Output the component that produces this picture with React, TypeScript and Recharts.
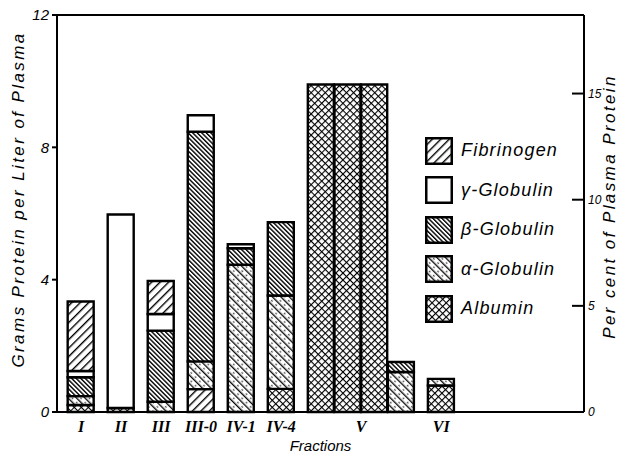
import React from "react";
import { BarChart, Bar, XAxis, YAxis, Legend, ReferenceLine } from "recharts";

// one entry per drawn column; fraction V is split over four columns
const fractions = ["I", "II", "III", "III-0", "IV-1", "IV-4", "V", "V", "V", "V", "VI"];
const albumin = [0.21, 0.12, 0, 0, 0, 0.7, 9.9, 9.9, 9.9, 0, 0.8];
const alphaGlobulin = [0.27, 0, 0.31, 0.84, 4.45, 2.82, 0, 0, 0, 1.21, 0.2];
const betaGlobulin = [0.57, 0, 2.15, 6.94, 0.5, 2.22, 0, 0, 0, 0.3, 0];
const gammaGlobulin = [0.19, 5.85, 0.5, 0.5, 0.12, 0, 0, 0, 0, 0, 0];
const fibrinogen = [2.1, 0, 1.0, 0.69, 0, 0, 0, 0, 0, 0, 0];
const fibrinogenAtBase = ["III-0"];
const gramTicks = [0, 4, 8, 12];
const percentTicks = [0, 5, 10, 15];

// columns of the same fraction touch, different fractions get a gap
let slot = 0;
const rows = fractions.map((f, i) => {
  if (i > 0) slot += f === fractions[i - 1] ? 2 : 3;
  const atBase = fibrinogenAtBase.includes(f);
  return {
    fraction: f,
    slot,
    fibLow: atBase ? fibrinogen[i] : 0,
    albumin: albumin[i],
    alpha: alphaGlobulin[i],
    beta: betaGlobulin[i],
    gamma: gammaGlobulin[i],
    fibHigh: atBase ? 0 : fibrinogen[i],
  };
});

const groups = Array.from(new Set(fractions)).map((f) => {
  const s = rows.filter((r) => r.fraction === f).map((r) => r.slot);
  return { name: f, center: (s[0] + s[s.length - 1]) / 2 };
});

const legendItems = [
  { name: "Fibrinogen", fill: "url(#fibPat)" },
  { name: "γ-Globulin", fill: "#fff" },
  { name: "β-Globulin", fill: "url(#betaPat)" },
  { name: "α-Globulin", fill: "url(#alphaPat)" },
  { name: "Albumin", fill: "url(#albPat)" },
];

const sans = '"Liberation Sans", Arial, sans-serif';
const textStyle = { fill: "#000", fontSize: 15, fontFamily: sans, fontStyle: "italic" };
const titleStyle = { ...textStyle, fontSize: 17, letterSpacing: 2.4, textAnchor: "middle" };

const PatternLegend = () => (
  <div>
    {legendItems.map((it) => (
      <div key={it.name} style={{ display: "flex", alignItems: "center", height: 39.5 }}>
        <svg width={28} height={28}>
          <rect x={1.25} y={1.25} width={25.5} height={25.5} fill={it.fill} stroke="#000" strokeWidth={2.5} />
        </svg>
        <span style={{ marginLeft: 8, fontFamily: sans, fontStyle: "italic", fontSize: 18, letterSpacing: 1.2 }}>
          {it.name}
        </span>
      </div>
    ))}
  </div>
);

const App = () => {
  return (
    <div style={{ position: "absolute", left: 0, top: 0 }}>
      <BarChart
        width={630}
        height={460}
        data={rows}
        margin={{ top: 15, right: 0, left: 0, bottom: 0 }}
        style={{ fontFamily: sans }}
      >
        <defs>
          <pattern id="fibPat" width="6" height="6" patternUnits="userSpaceOnUse" patternTransform="rotate(45)">
            <rect width="6" height="6" fill="#fff" />
            <line x1="0.7" y1="0" x2="0.7" y2="6" stroke="#000" strokeWidth="1.4" />
          </pattern>
          <pattern id="betaPat" width="3.2" height="3.2" patternUnits="userSpaceOnUse" patternTransform="rotate(-45)">
            <rect width="3.2" height="3.2" fill="#fff" />
            <line x1="0.7" y1="0" x2="0.7" y2="3.2" stroke="#000" strokeWidth="1.4" />
          </pattern>
          <pattern id="alphaPat" width="6" height="6" patternUnits="userSpaceOnUse" patternTransform="rotate(-45)">
            <rect width="6" height="6" fill="#fff" />
            <line x1="0.7" y1="0" x2="0.7" y2="6" stroke="#000" strokeWidth="1.3" />
            <circle cx="3.6" cy="3" r="0.8" fill="#000" />
          </pattern>
          <pattern id="albPat" width="5" height="5" patternUnits="userSpaceOnUse" patternTransform="rotate(45)">
            <rect width="5" height="5" fill="#fff" />
            <line x1="0" y1="0" x2="0" y2="5" stroke="#000" strokeWidth="2.2" />
            <line x1="0" y1="0" x2="5" y2="0" stroke="#000" strokeWidth="2.2" />
          </pattern>
        </defs>
        <XAxis
          type="number"
          dataKey="slot"
          domain={[-1.8, 37.7]}
          allowDataOverflow
          ticks={groups.map((g) => g.center)}
          interval={0}
          tickFormatter={(v) => groups.find((g) => g.center === v)?.name ?? ""}
          tickLine={false}
          axisLine={{ stroke: "#000", strokeWidth: 2 }}
          height={48}
          tickMargin={3}
          tick={{ fill: "#000", fontSize: 16, fontFamily: '"Liberation Serif", serif', fontStyle: "italic", fontWeight: "bold" }}
          label={{ value: "Fractions", position: "insideBottom", offset: 9, style: textStyle }}
        />
        <YAxis
          yAxisId="g"
          domain={[0, 12]}
          ticks={gramTicks}
          width={57}
          tickSize={5}
          tickMargin={3}
          axisLine={{ stroke: "#000", strokeWidth: 2 }}
          tickLine={{ stroke: "#000", strokeWidth: 2 }}
          tick={textStyle}
          label={{
            value: "Grams Protein per Liter of Plasma",
            angle: -90,
            position: "insideLeft",
            offset: 18,
            dy: -14,
            style: titleStyle,
          }}
        />
        <YAxis
          yAxisId="p"
          orientation="right"
          type="number"
          domain={[0, 18.7]}
          allowDataOverflow
          ticks={percentTicks}
          interval={0}
          width={46}
          tickSize={-12}
          tickMargin={16}
          axisLine={{ stroke: "#000", strokeWidth: 2 }}
          tickLine={{ stroke: "#000", strokeWidth: 2 }}
          tick={{ ...textStyle, fontSize: 12 }}
          label={{
            value: "Per cent of Plasma Protein",
            angle: -90,
            position: "insideRight",
            offset: 21,
            dy: -7,
            style: titleStyle,
          }}
        />
        <ReferenceLine yAxisId="g" y={12} stroke="#000" strokeWidth={2} />
        <Legend
          content={<PatternLegend />}
          layout="horizontal"
          verticalAlign="middle"
          align="center"
          wrapperStyle={{ left: 425, top: 131, width: 170 }}
        />
        <Bar yAxisId="g" dataKey="fibLow" name="Fibrinogen" stackId="s" fill="url(#fibPat)" stroke="#000" strokeWidth={2.4} barSize={26} isAnimationActive={false} />
        <Bar yAxisId="g" dataKey="albumin" name="Albumin" stackId="s" fill="url(#albPat)" stroke="#000" strokeWidth={2.4} barSize={26} isAnimationActive={false} />
        <Bar yAxisId="g" dataKey="alpha" name="α-Globulin" stackId="s" fill="url(#alphaPat)" stroke="#000" strokeWidth={2.4} barSize={26} isAnimationActive={false} />
        <Bar yAxisId="g" dataKey="beta" name="β-Globulin" stackId="s" fill="url(#betaPat)" stroke="#000" strokeWidth={2.4} barSize={26} isAnimationActive={false} />
        <Bar yAxisId="g" dataKey="gamma" name="γ-Globulin" stackId="s" fill="#fff" stroke="#000" strokeWidth={2.4} barSize={26} isAnimationActive={false} />
        <Bar yAxisId="g" dataKey="fibHigh" name="Fibrinogen" stackId="s" fill="url(#fibPat)" stroke="#000" strokeWidth={2.4} barSize={26} isAnimationActive={false} />
      </BarChart>
    </div>
  );
};

export default App;
